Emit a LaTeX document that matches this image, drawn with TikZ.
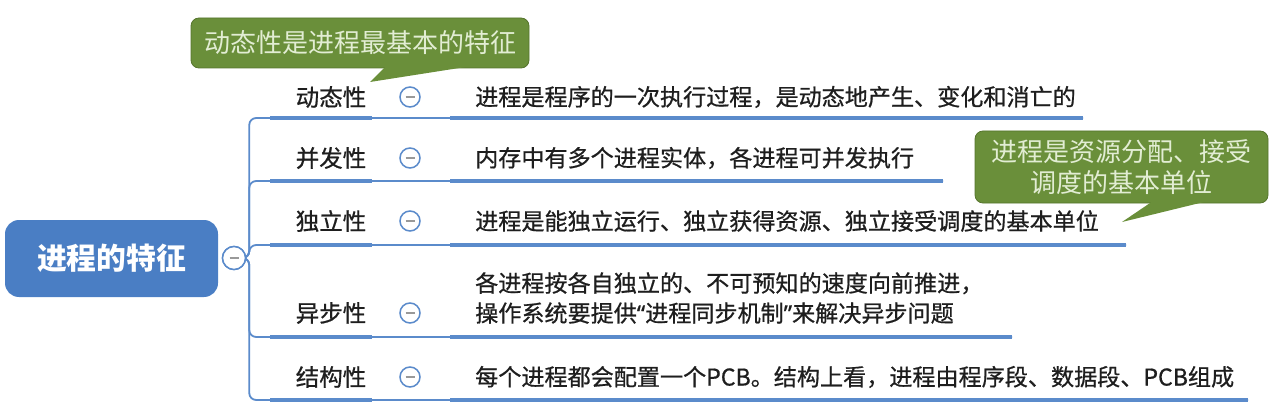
\documentclass[tikz,border=0pt]{standalone}
\usepackage{fontspec}
\setmainfont{Noto Sans CJK SC}
\newfontfamily\semibold[FakeBold=0.7]{Noto Sans CJK SC}
\newfontfamily\narrowq[FakeBold=0.7]{Noto Sans}
\definecolor{mmblue}{HTML}{4A7EC4}
\definecolor{lineblue}{HTML}{5B8BCB}
\definecolor{cgreen}{HTML}{6A8F3A}
\definecolor{cborder}{HTML}{55742C}
\definecolor{ctext}{HTML}{E2EDD3}
\definecolor{txt}{HTML}{1E1E1E}
\begin{document}
\begin{tikzpicture}[x=1pt,y=-1pt,
  root/.style={fill=mmblue, rounded corners=14pt, text=white, font=\bfseries\fontsize{29.8}{30}\selectfont, minimum width=213pt, minimum height=77pt, inner sep=0pt},
  lab/.style={font=\semibold\fontsize{23.5}{24}\selectfont, text=txt, inner sep=0pt},
  desc/.style={font=\semibold\fontsize{23.1}{30}\selectfont, text=txt, inner sep=0pt, anchor=west, align=left},
  fold/.style={circle, draw=lineblue, line width=1.5pt, fill=white, minimum size=20pt, inner sep=0pt,
    path picture={\draw[gray!80, line width=1.4pt] ([xshift=-4.5pt]path picture bounding box.center) -- ([xshift=4.5pt]path picture bounding box.center);}},
  thinline/.style={draw=lineblue, line width=1.8pt},
  thickline/.style={draw=lineblue, line width=4.3pt},
  callout/.style={fill=cgreen, draw=cborder, line width=0.8pt, rounded corners=8pt, text=ctext, font=\fontsize{26}{31}\selectfont, align=center, inner sep=0pt}
]
\useasboundingbox (0,0) rectangle (1277,417);

% root
\node[root] (root) at (111.5,258.5) {进程的特征};
\node[fold, minimum size=23pt] (rf) at (234,258) {};

% children
\node[lab] (l1) at (331,97) {动态性};
\node[lab] (l2) at (331,158) {并发性};
\node[lab] (l3) at (331,221) {独立性};
\node[lab] (l4) at (331,313) {异步性};
\node[lab] (l5) at (331,377) {结构性};

\node[fold] (f1) at (410,97) {};
\node[fold] (f2) at (410,158) {};
\node[fold] (f3) at (410,221) {};
\node[fold] (f4) at (410,313) {};
\node[fold] (f5) at (410,377) {};

\node[desc] (d1) at (475,97) {进程是程序的一次执行过程，是动态地产生、变化和消亡的};
\node[desc] (d2) at (475,158) {内存中有多个进程实体，各进程可并发执行};
\node[desc] (d3) at (475,221) {进程是能独立运行、独立获得资源、独立接受调度的基本单位};
\node[desc] (d4) at (475,298) {各进程按各自独立的、不可预知的速度向前推进，\\操作系统要提供{\narrowq“}进程同步机制{\narrowq”}来解决异步问题};
\node[desc] (d5) at (475,377) {每个进程都会配置一个PCB。结构上看，进程由程序段、数据段、PCB组成};

% underline coordinates
\foreach \i/\y/\e in {1/118/1083, 2/181/943, 3/245/1126, 4/337/1012, 5/400/1248}{
  \coordinate (u\i s) at (270,\y);
  \coordinate (u\i m) at (372,\y);
  \coordinate (u\i t) at (450,\y);
  \coordinate (u\i e) at (\e,\y);
}

% connectors
\foreach \i in {1,...,5}{
  \draw[thinline, rounded corners=7pt] (rf.east) -- ++(3,0) |- (u\i s) -- (u\i e);
  \draw[thickline] (u\i s) -- (u\i m);
  \draw[thickline] (u\i t) -- (u\i e);
}
\node[fold, minimum size=23pt] at (rf) {};

% callouts
\node[callout, minimum width=338pt, minimum height=50pt] (c1) at (360,43) {动态性是进程最基本的特征};
\fill[cgreen] (386,66) -- (370,82) -- (472,66) -- cycle;

\node[callout, minimum width=293pt, minimum height=72pt] (c2) at (1121.5,167) {进程是资源分配、接受\\调度的基本单位};
\fill[cgreen] (1153,201) -- (1122,222) -- (1208,201) -- cycle;
\end{tikzpicture}
\end{document}
